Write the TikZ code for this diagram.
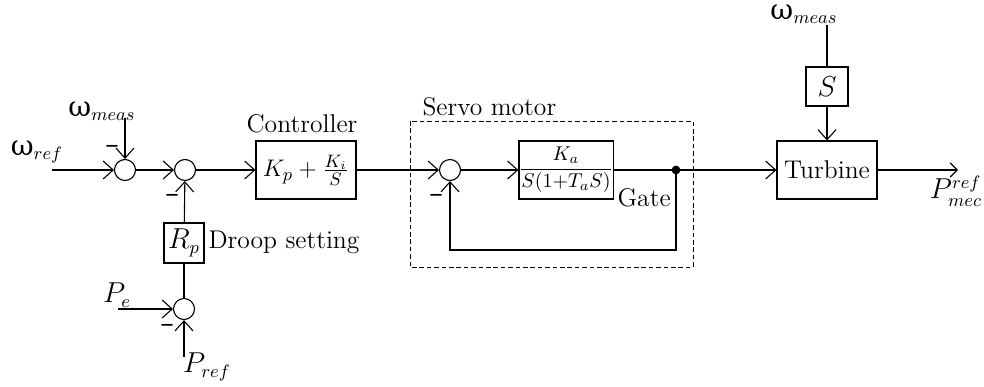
\documentclass[tikz,border=0pt]{standalone}
\usepackage{fontspec}
\newfontfamily\grk{DejaVu Serif}
\newcommand{\om}{{\grk\fontsize{14}{16}\selectfont ω}}
\usetikzlibrary{arrows.meta}
\begin{document}
\begin{tikzpicture}[x=0.5pt,y=-0.5pt,
  line width=0.55pt,
  every node/.style={font=\fontsize{12.8}{15}\selectfont},
  sumnode/.style={circle,draw,minimum size=10.5pt,inner sep=0pt},
  blk/.style={draw,rectangle,inner sep=0pt},
  arr/.style={-{Straight Barb[length=5pt,width=9pt]}},
  sarr/.style={-{Straight Barb[length=3.5pt,width=7pt]}},
  lbl/.style={inner sep=0pt},
  minus/.style={inner sep=0pt,font=\grk\fontsize{13.5}{16}\selectfont}]
\useasboundingbox (0,0) rectangle (984,386);
% summing junctions
\node[sumnode] (s1) at (125,170) {};
\node[sumnode] (s2) at (185,170) {};
\node[sumnode] (s3) at (184,309) {};
\node[sumnode] (s4) at (450,170) {};
% blocks
\node[blk,minimum width=50pt,minimum height=29pt] (ctrl) at (306,170) {\fontsize{12.8}{15}\selectfont$K_p+\frac{K_i}{S}$};
\node[blk,minimum width=20pt,minimum height=20pt] (rp) at (184,243) {\fontsize{13.5}{16}\selectfont$R_p$};
\node[blk,minimum width=47pt,minimum height=29pt] (ka) at (566,170) {\fontsize{9.6}{11}\selectfont$\displaystyle\frac{K_a}{S(1{+}T_aS)}$};
\node[blk,minimum width=50pt,minimum height=29pt] (turb) at (827,170) {Turbine};
\node[blk,minimum width=21pt,minimum height=19.5pt] (sblk) at (827,86.5) {\fontsize{13.5}{16}\selectfont$S$};
% labels
\node[lbl] (wref) at (37,152) {\om$_{ref}$};
\node[lbl] (wmeas1) at (102,111) {\om$_{meas}$};
\node[lbl] (wmeas2) at (804,14) {\om$_{meas}$};
\node[lbl] (pe) at (117,295) {\fontsize{13.5}{16}\selectfont$P_e$};
\node[lbl] (pref) at (207,367) {\fontsize{13.5}{16}\selectfont$P_{ref}$};
\node[lbl] (pmec) at (956,191) {\fontsize{13.5}{16}\selectfont$P^{ref}_{mec}$};
\node[lbl,anchor=west] (droop) at (208,242) {Droop setting};
\node[lbl] (ctrllbl) at (302,124) {Controller};
\node[lbl,anchor=west] (servolbl) at (422,107) {Servo motor};
\node[lbl,anchor=west] (gate) at (617,198) {Gate};
% minus signs
\node[minus] (m1) at (112,149) {–};
\node[minus] (m2) at (172,198) {–};
\node[minus] (m3) at (167,328) {–};
\node[minus] (m4) at (436,198) {–};
% free ends
\coordinate (cwref) at (52,170);
\coordinate (cwm1) at (125,118);
\coordinate (cpe) at (118,309);
\coordinate (cpref) at (184,357);
\coordinate (cwm2) at (827,25);
\coordinate (cout) at (958,170);
\coordinate (dot) at (676,170);
\coordinate (fb1) at (676,250);
\coordinate (fb2) at (450,250);
% dashed servo box
\draw[dash pattern=on 2.3pt off 1.4pt,line width=0.5pt] (410,121) rectangle (693,267);
% connectors
\draw[arr] (cwref) -- (s1);
\draw[arr] (cwm1) -- (s1);
\draw[arr] (s1) -- (s2);
\draw[arr] (s2) -- (ctrl);
\draw[arr] (rp) -- (s2);
\draw (s3) -- (rp);
\draw[arr] (cpe) -- (s3);
\draw[arr] (cpref) -- (s3);
\draw[arr] (ctrl) -- (s4);
\draw[arr] (s4) -- (ka);
\draw (ka) -- (dot);
\draw[arr] (dot) -- (turb);
\draw[arr] (dot) -- (fb1) -- (fb2) -- (s4);
\fill (dot) circle (2.2pt);
\draw (cwm2) -- (sblk);
\draw[arr] (sblk) -- (turb);
\draw[sarr] (turb) -- (cout);
\end{tikzpicture}
\end{document}
